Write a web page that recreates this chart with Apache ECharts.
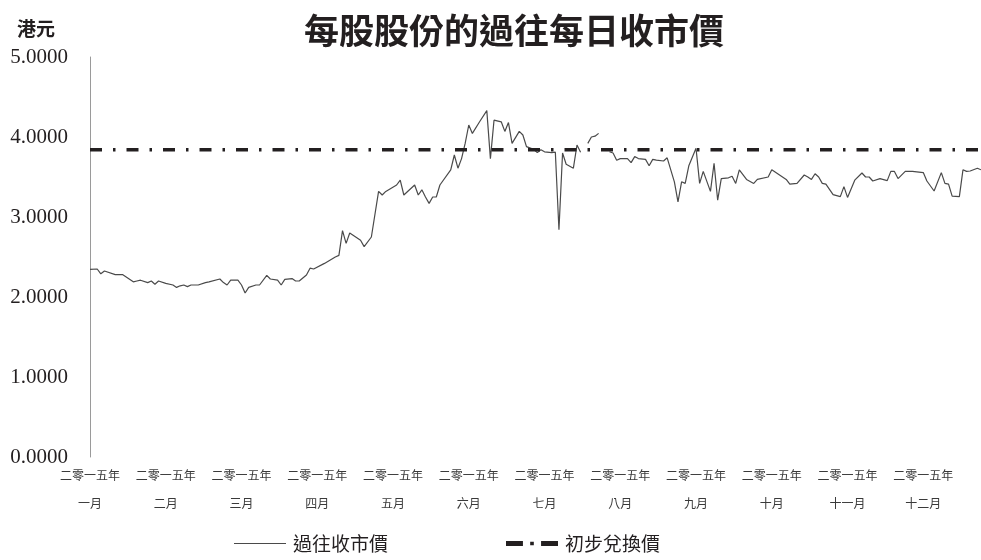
<!DOCTYPE html>
<html>
<head>
<meta charset="utf-8">
<script src="https://cdn.jsdelivr.net/npm/echarts@6/dist/echarts.min.js"></script>
<style>html,body{margin:0;padding:0;background:#fff}#c{width:981px;height:560px}</style>
</head>
<body>
<div id="c"></div>
<script>
// Trading-day index (0 = first trading day of 2015) and closing price (HK$); null = no trading
const tradingDays = [0,2,3,4,7,9,12,13,14,16,17,18,19,21,23,24,25,26,27,28,30,32,33,36,37,38,39,41,42,43,44,46,47,49,50,52,53,54,56,57,58,60,61,62,65,68,69,70,71,72,75,76,78,80,81,82,85,86,87,90,91,92,93,94,95,96,97,100,101,102,103,104,105,106,108,110,111,112,114,115,116,117,119,120,121,123,124,125,126,128,129,130,131,132,134,135,136,137,138,139,140,141,142,144,145,146,147,149,150,151,152,154,155,156,157,159,160,162,163,164,165,166,167,168,169,170,172,173,174,175,177,178,179,180,182,184,185,188,189,193,194,196,198,199,200,201,202,203,204,206,208,209,210,212,214,215,216,217,219,221,222,223,224,226,228,231,232,234,236,237,238,239,241,242,243,244,246,247];
const closePrices = [2.345,2.35,2.29,2.325,2.28,2.28,2.19,2.20,2.21,2.18,2.20,2.16,2.20,2.17,2.15,2.12,2.14,2.15,2.13,2.15,2.15,2.18,2.19,2.225,2.18,2.15,2.21,2.21,2.15,2.05,2.12,2.15,2.15,2.27,2.225,2.21,2.15,2.22,2.23,2.20,2.20,2.275,2.36,2.35,2.42,2.50,2.52,2.83,2.67,2.80,2.71,2.63,2.75,3.32,3.275,3.32,3.40,3.46,3.275,3.40,3.275,3.34,3.25,3.17,3.25,3.25,3.40,3.59,3.775,3.61,3.73,3.92,4.15,4.045,4.19,4.33,3.73,4.21,4.19,4.07,4.18,3.92,4.07,4.025,3.88,3.845,3.805,3.84,3.815,3.805,3.81,2.84,3.80,3.66,3.61,3.90,3.81,null,3.92,4.00,4.01,4.045,null,3.815,3.80,3.71,3.73,3.73,3.68,3.755,3.73,3.72,3.64,3.72,3.71,3.70,3.74,3.44,3.19,3.44,3.42,3.64,3.75,3.86,3.42,3.57,3.32,3.67,3.21,3.48,3.49,3.51,3.42,3.59,3.47,3.42,3.47,3.50,3.59,3.47,3.41,3.42,3.525,3.50,3.47,3.54,3.50,3.42,3.41,3.28,3.255,3.38,3.245,3.46,3.55,3.50,3.50,3.45,3.48,3.455,3.57,3.57,3.48,3.57,3.57,3.555,3.45,3.325,3.555,3.42,3.41,3.26,3.255,3.59,3.57,3.575,3.61,3.59];
const conversionPrice = 3.84;
const monthLabels = ['二零一五年\n一月','二零一五年\n二月','二零一五年\n三月','二零一五年\n四月','二零一五年\n五月','二零一五年\n六月','二零一五年\n七月','二零一五年\n八月','二零一五年\n九月','二零一五年\n十月','二零一五年\n十一月','二零一五年\n十二月'];
const yTicks = [0,1,2,3,4,5];
const seriesNames = ['過往收市價','初步兌換價'];
const titleText = '每股股份的過往每日收市價';
const unitText = '港元';

const daysPerLabel = 21;
const lastDay = 247;

const priceData = tradingDays.map((d, i) => [d, closePrices[i] === null ? '-' : closePrices[i]]);
const convData = [[0, conversionPrice], [lastDay, conversionPrice]];

const chart = echarts.init(document.getElementById('c'));
chart.setOption({
  animation: false,
  backgroundColor: '#fff',
  title: [
    { text: titleText, left: 509, textAlign: 'center', top: 8,
      textStyle: { fontFamily: 'Noto Sans CJK TC', fontWeight: 'bold', fontSize: 35, color: '#231f20' } },
    { text: unitText, left: 12, top: 14,
      textStyle: { fontFamily: 'Noto Sans CJK TC', fontWeight: 'bold', fontSize: 19, color: '#231f20' } }
  ],
  grid: { left: 90, right: 0, top: 57, bottom: 103, containLabel: false },
  xAxis: {
    type: 'value', min: 0, max: lastDay, interval: daysPerLabel,
    axisLine: { show: false }, axisTick: { show: false }, splitLine: { show: false },
    axisLabel: {
      showMaxLabel: false,
      margin: 4, fontFamily: 'Noto Sans CJK TC', fontSize: 12, lineHeight: 28, color: '#3a3a3a',
      formatter: v => (v % daysPerLabel === 0 && monthLabels[v / daysPerLabel]) ? monthLabels[v / daysPerLabel] : ''
    }
  },
  yAxis: {
    type: 'value', min: yTicks[0], max: yTicks[yTicks.length - 1], interval: 1,
    axisLine: { show: true, lineStyle: { color: '#9a9a9a', width: 1 } },
    axisTick: { show: false }, splitLine: { show: false },
    axisLabel: { margin: 22, fontFamily: 'Liberation Serif', fontSize: 21, color: '#231f20',
      formatter: v => v.toFixed(4) }
  },
  legend: {
    top: 529, left: 229, itemGap: 118, itemWidth: 52, itemHeight: 12,
    textStyle: { fontFamily: 'Noto Sans CJK TC', fontSize: 19, color: '#231f20', padding: [0, 0, 0, 2] },
    data: [
      { name: seriesNames[0], icon: 'path://M0,5.4H52V6.6H0Z' },
      { name: seriesNames[1], icon: 'path://M0,4H14V8H0Z M20,4.6H23V7.4H20Z M29,4H43V8H29Z' }
    ]
  },
  series: [
    { name: seriesNames[0], type: 'line', data: priceData, symbol: 'none', showSymbol: false,
      connectNulls: false, lineStyle: { color: '#4a4a4a', width: 1.2 }, itemStyle: { color: '#4a4a4a' } },
    { name: seriesNames[1], type: 'line', data: convData, symbol: 'none', showSymbol: false,
      lineStyle: { color: '#231f20', width: 3.5, type: [12, 11, 2.5, 11] }, itemStyle: { color: '#231f20' } }
  ]
});
</script>
</body>
</html>
